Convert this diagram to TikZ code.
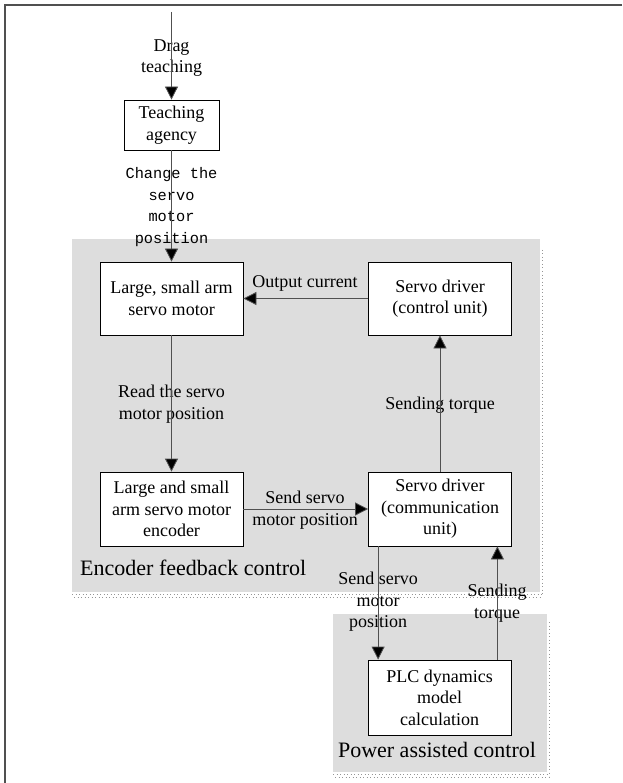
\documentclass[tikz,border=0pt]{standalone}
\usepackage{fontspec}
\setmainfont{Liberation Serif}
\setmonofont{Liberation Mono}
\usetikzlibrary{arrows.meta, positioning, calc}
\definecolor{PanelGray}{RGB}{221, 221, 221}
\definecolor{DotGray}{RGB}{150, 150, 150}
\definecolor{WireGray}{RGB}{80, 80, 80}

\tikzset{
  unitbox/.style={draw=black, fill=white, line width=0.8pt, align=center,
    minimum width=143pt, minimum height=73pt, inner sep=1pt,
    font=\fontsize{18}{21.5}\selectfont},
  flowlbl/.style={align=center, inner sep=0pt, font=\fontsize{18}{21.5}\selectfont},
  monolbl/.style={align=center, inner sep=0pt, font=\ttfamily\fontsize{15.3}{21.7}\selectfont},
  zonelbl/.style={inner sep=0pt, font=\fontsize{22}{24}\selectfont},
  wire/.style={draw=WireGray, line width=0.8pt, -{Triangle[length=13pt, width=13pt, fill=black]}},
  shadowdots/.style={draw=DotGray, line width=0.9pt, dash pattern=on 0.9pt off 2.6pt}
}

\begin{document}
\begin{tikzpicture}[x=1pt, y=-1pt]
  \useasboundingbox (0,0) rectangle (622,783);
  % outer frame
  \draw[WireGray, line width=1.2pt] (622,5) -- (5,5) -- (5,783);

  % zones
  \fill[PanelGray] (72,239) rectangle (540,592);
  \draw[shadowdots] (542,250) -- (542,596);
  \draw[shadowdots] (72,594) -- (542,594);
  \draw[shadowdots] (74,597) -- (542,597);
  \fill[PanelGray] (333,614) rectangle (547,772);
  \draw[shadowdots] (549,622) -- (549,776);
  \draw[shadowdots] (333,774) -- (549,774);
  \draw[shadowdots] (335,777) -- (549,777);

  % units
  \node[unitbox, minimum width=95pt, minimum height=50pt] (teach) at (171.5,125) {Teaching\\agency};
  \node[unitbox] (motor) at (171.5,298.5) {Large, small arm\\servo motor};
  \node[unitbox] (ctrl) at (440,298.5) {Servo driver\\(control unit)};
  \node[unitbox, minimum height=74pt] (enc) at (171.5,509) {Large and small\\arm servo motor\\encoder};
  \node[unitbox, minimum height=74pt] (comm) at (440,509) {Servo driver\\(communication\\unit)};
  \node[unitbox, minimum height=75pt] (plc) at (439.5,697.5) {PLC dynamics\\model\\calculation};

  \coordinate (drag) at (171.5,12);

  % labels
  \node[flowlbl] (dragtxt) at (171.5,58) {Drag\\teaching};
  \node[monolbl] (changetxt) at (171.5,207) {Change the\\servo\\motor\\position};
  \node[flowlbl] (outtxt) at (305,283) {Output current};
  \node[flowlbl] (readtxt) at (171.5,404) {Read the servo\\motor position};
  \node[flowlbl] (torqtxt) at (440,405) {Sending torque};
  \node[flowlbl] (sendtxt) at (305,510) {Send servo\\motor position};
  \node[zonelbl, anchor=west] (enczone) at (80,568) {Encoder feedback control};
  \node[flowlbl] (send2txt) at (378,602) {Send servo\\motor\\position};
  \node[flowlbl] (torq2txt) at (497,603) {Sending\\torque};
  \node[zonelbl] (powzone) at (437,750) {Power assisted control};

  % connectors
  \draw[wire] (drag) -- (teach.north);
  \draw[wire] (teach.south) -- (motor.north);
  \draw[wire] (ctrl.west) -- (motor.east);
  \draw[wire] (motor.south) -- (enc.north);
  \draw[wire] (enc.east) -- (comm.west);
  \draw[wire] (comm.north) -- (ctrl.south);
  \draw (comm.south west) ++(10,0) coordinate (downA);
  \draw[wire] (downA) -- (downA |- plc.north);
  \draw (plc.north east) ++(-14,0) coordinate (upB);
  \draw[wire] (upB) -- (upB |- comm.south);
\end{tikzpicture}
\end{document}
